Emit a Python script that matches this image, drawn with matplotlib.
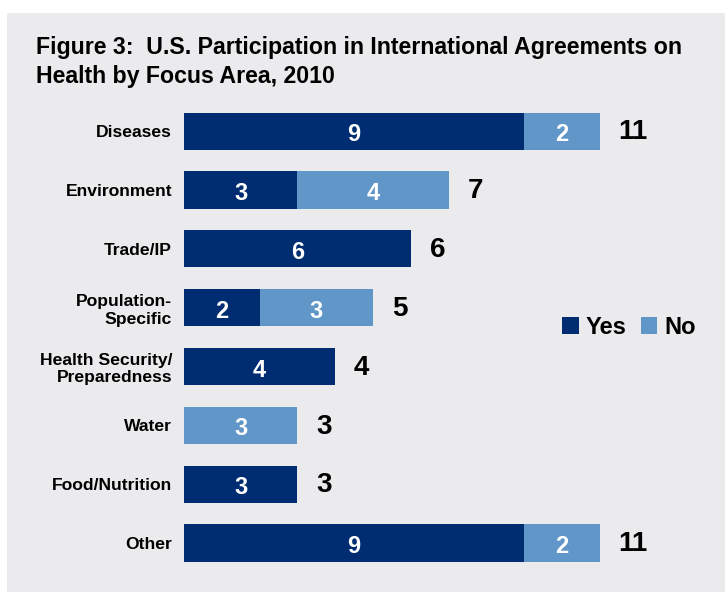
import matplotlib.pyplot as plt
from matplotlib.patches import Rectangle

categories = ["Diseases", "Environment", "Trade/IP", "Population-\nSpecific",
              "Health Security/\nPreparedness", "Water", "Food/Nutrition", "Other"]
yes_vals = [9, 3, 6, 2, 4, 0, 3, 9]
no_vals = [2, 4, 0, 3, 0, 3, 0, 2]
totals = [y + n for y, n in zip(yes_vals, no_vals)]

YES_COLOR = "#002d72"
NO_COLOR = "#6096c8"
BG = "#ebebed"

plt.rcParams["font.family"] = ["Liberation Sans", "DejaVu Sans"]

fig = plt.figure(figsize=(7.25, 5.92), dpi=100)
fig.patch.set_facecolor("white")
fig.patches.append(Rectangle((7 / 725, 0), 1, 1 - 13 / 592, transform=fig.transFigure,
                             facecolor=BG, edgecolor="none", zorder=-10))

title_lines = ["Figure 3:  U.S. Participation in International Agreements on",
               "Health by Focus Area, 2010"]
for k, line in enumerate(title_lines):
    fig.text(36 / 725, 1 - (54 + 29 * k) / 592, line, fontsize=16.7, fontweight="bold",
             va="baseline", ha="left")

ax = fig.add_axes([184 / 725, 0.0331, 1 - 184 / 725, 0.795])
ax.set_facecolor("none")
ypos = list(range(len(categories)))
h = 0.63
ax.barh(ypos, yes_vals, height=h, color=YES_COLOR, label="Yes")
ax.barh(ypos, no_vals, left=yes_vals, height=h, color=NO_COLOR, label="No")

for i in ypos:
    if yes_vals[i]:
        ax.text(yes_vals[i] / 2, i + 0.06, str(yes_vals[i]), color="white", fontsize=17,
                fontweight="bold", ha="center", va="center")
    if no_vals[i]:
        ax.text(yes_vals[i] + no_vals[i] / 2, i + 0.06, str(no_vals[i]), color="white",
                fontsize=17, fontweight="bold", ha="center", va="center")
    ax.text(totals[i] + 0.5, i + 0.02, str(totals[i]), color="black", fontsize=20,
            fontweight="bold", ha="left", va="center")

ax.set_xlim(0, 541 / 37.8)
ax.set_ylim(len(categories) - 0.5, -0.5)
ax.set_yticks(ypos)
ax.set_yticklabels(categories, fontsize=12.6, fontweight="bold")
ax.tick_params(axis="y", length=0, pad=8.6)
ax.set_xticks([])
for s in ax.spines.values():
    s.set_visible(False)

ax.legend(loc="center left", bbox_to_anchor=(0.66, 0.521), ncol=2, frameon=False,
          prop={"weight": "bold", "size": 17},
          handlelength=0.7, handleheight=0.7, handletextpad=0.3, columnspacing=0.6)

fig.savefig("out.png", dpi=100, facecolor=fig.get_facecolor())
